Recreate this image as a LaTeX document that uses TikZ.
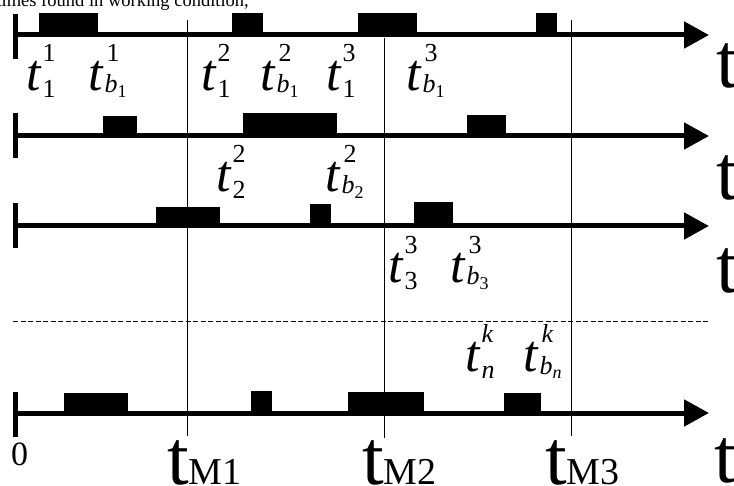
\documentclass[tikz,border=0pt]{standalone}
\usepackage{fontspec}
\setmainfont{Liberation Serif}
\usetikzlibrary{arrows.meta}
\newcommand\tsc[1]{{\fontsize{26}{26}\selectfont #1}}
\newcommand\tsub[1]{{\fontsize{18}{18}\selectfont #1}}
\newcommand\tlab[2]{\textit{t}\kern1pt\rlap{\raisebox{29pt}{\tsc{#1}}}\raisebox{-7pt}{\tsc{#2}}}
\newcommand\tlabb[2]{\textit{t}\kern1pt\rlap{\raisebox{29pt}{\kern2pt\tsc{#1}}}\raisebox{-2pt}{\tsc{\textit{b}}}\raisebox{-7pt}{\tsub{#2}}}
\tikzset{
  axis/.style={line width=5pt, -{Triangle[length=25pt,width=26pt]}},
  tickmark/.style={line width=5pt},
  blk/.style={fill=black},
  vline/.style={line width=0.8pt},
  sep/.style={line width=0.7pt, dash pattern=on 5pt off 2.5pt},
  lab/.style={font=\fontsize{52}{52}\selectfont, anchor=base west, inner sep=0pt},
  bigt/.style={font=\fontsize{78}{78}\selectfont, anchor=base west, inner sep=0pt},
}
\begin{document}
\begin{tikzpicture}[x=1pt,y=-1pt]
\clip (0,0) rectangle (734,486);
\useasboundingbox (0,0) rectangle (734,486);
\node[anchor=base east, inner sep=0pt, font=\fontsize{18.5}{18.5}\selectfont] (cap) at (249,6.5) {times found in working condition,};
% vertical marker lines
\coordinate (m1t) at (187,20); \coordinate (m1b) at (187,436);
\coordinate (m2t) at (384,38); \coordinate (m2b) at (384,438);
\coordinate (m3t) at (571,20); \coordinate (m3b) at (571,436);
\draw[vline] (m1t) -- (m1b);
\draw[vline] (m2t) -- (m2b);
\draw[vline] (m3t) -- (m3b);
% line 1
\fill[blk] (39,13) rectangle (98,35);
\fill[blk] (232,13) rectangle (263,35);
\fill[blk] (358,13) rectangle (417,35);
\fill[blk] (536,13) rectangle (557,35);
\coordinate (a1s) at (15,35); \coordinate (a1e) at (709,35);
\coordinate (k1t) at (15,14); \coordinate (k1b) at (15,59);
\draw[tickmark] (k1t) -- (k1b);
\draw[axis] (a1s) -- (a1e);
% line 2
\fill[blk] (103,116) rectangle (137,136);
\fill[blk] (243,113) rectangle (337,136);
\fill[blk] (467,115) rectangle (506,136);
\coordinate (a2s) at (15,136); \coordinate (a2e) at (709,136);
\coordinate (k2t) at (15,113); \coordinate (k2b) at (15,158);
\draw[tickmark] (k2t) -- (k2b);
\draw[axis] (a2s) -- (a2e);
% line 3
\fill[blk] (156,207) rectangle (220,226);
\fill[blk] (310,204) rectangle (331,226);
\fill[blk] (414,202) rectangle (453,226);
\coordinate (a3s) at (15,226); \coordinate (a3e) at (709,226);
\coordinate (k3t) at (15,203); \coordinate (k3b) at (15,248);
\draw[tickmark] (k3t) -- (k3b);
\draw[axis] (a3s) -- (a3e);
% separator
\coordinate (ds) at (13,321); \coordinate (de) at (709,321);
\draw[sep] (ds) -- (de);
% line 4
\fill[blk] (64,393) rectangle (128,413);
\fill[blk] (251,391) rectangle (272,413);
\fill[blk] (348,392) rectangle (424,413);
\fill[blk] (504,393) rectangle (541,413);
\coordinate (a4s) at (15,413); \coordinate (a4e) at (709,413);
\coordinate (k4t) at (15,392); \coordinate (k4b) at (15,437);
\draw[tickmark] (k4t) -- (k4b);
\draw[axis] (a4s) -- (a4e);
% labels line 1
\node[lab] (l11) at (26,91) {\tlab{1}{1}};
\node[lab] (l12) at (88,91) {\tlabb{1}{1}};
\node[lab] (l13) at (201,91) {\tlab{2}{1}};
\node[lab] (l14) at (260,91) {\tlabb{2}{1}};
\node[lab] (l15) at (326,91) {\tlab{3}{1}};
\node[lab] (l16) at (406,91) {\tlabb{3}{1}};
% labels line 2
\node[lab] (l21) at (216,192) {\tlab{2}{2}};
\node[lab] (l22) at (325,192) {\tlabb{2}{2}};
% labels line 3
\node[lab] (l31) at (388,283) {\tlab{3}{3}};
\node[lab] (l32) at (450,283) {\tlabb{3}{3}};
% labels line 4
\node[lab] (l41) at (465,372) {\tlab{\textit{k}}{\textit{n}}};
\node[lab] (l42) at (523,372) {\tlabb{\textit{k}}{\textit{n}}};
% big t
\node[bigt] (t1) at (716,88) {t};
\node[bigt] (t2) at (716,200) {t};
\node[bigt] (t3) at (716,293) {t};
\node[bigt] (t4) at (714,482) {t};
% bottom labels
\node[anchor=base west, inner sep=0pt, font=\fontsize{34}{34}\selectfont] (zero) at (11,465) {0};
\node[bigt] (tm1) at (167,484) {t{\fontsize{38}{38}\selectfont M1}};
\node[bigt] (tm2) at (362,484) {t{\fontsize{38}{38}\selectfont M2}};
\node[bigt] (tm3) at (545,484) {t{\fontsize{38}{38}\selectfont M3}};
\end{tikzpicture}
\end{document}
